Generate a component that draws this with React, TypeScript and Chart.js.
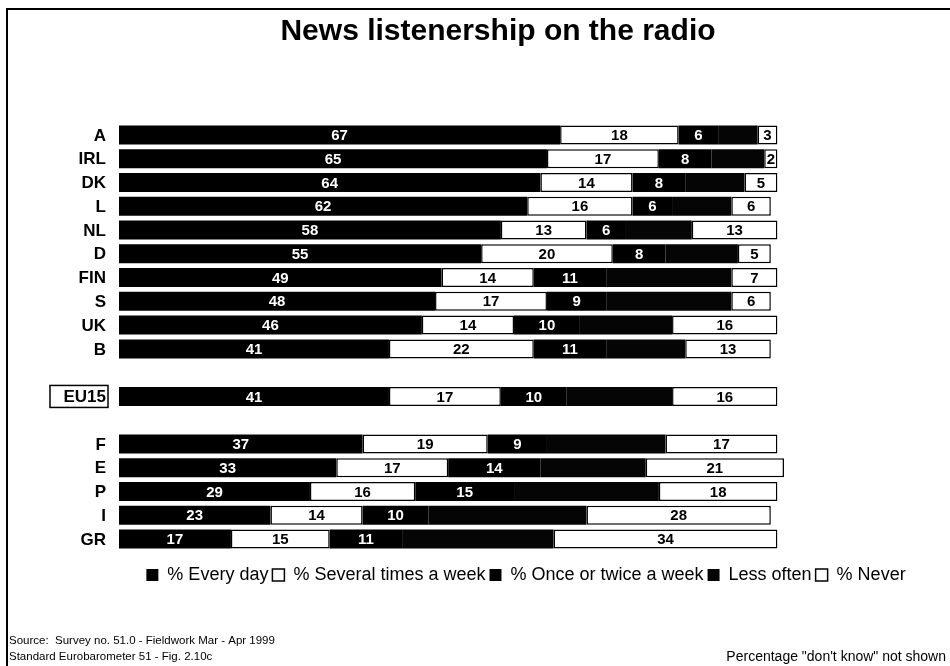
import React, { useEffect, useRef } from 'react';
import { Chart, registerables } from 'chart.js';

Chart.register(...registerables);

// Countries top to bottom; empty strings leave a blank row around the EU15 average.
const categories = ['A', 'IRL', 'DK', 'L', 'NL', 'D', 'FIN', 'S', 'UK', 'B', '', 'EU15', '', 'F', 'E', 'P', 'I', 'GR'];

const everyDay = [67, 65, 64, 62, 58, 55, 49, 48, 46, 41, null, 41, null, 37, 33, 29, 23, 17];
const severalTimesWeek = [18, 17, 14, 16, 13, 20, 14, 17, 14, 22, null, 17, null, 19, 17, 16, 14, 15];
const onceOrTwiceWeek = [6, 8, 8, 6, 6, 8, 11, 9, 10, 11, null, 10, null, 9, 14, 15, 10, 11];
const lessOften = [6, 8, 9, 9, 10, 11, 19, 19, 14, 12, null, 16, null, 18, 16, 22, 24, 23];
const never = [3, 2, 5, 6, 13, 5, 7, 6, 16, 13, null, 16, null, 17, 21, 18, 28, 34];

const seriesLabels = ['% Every day', '% Several times a week', '% Once or twice a week', 'Less often', '% Never'];

const titleText = 'News listenership on the radio';
const sourceLines = ['Source:  Survey no. 51.0 - Fieldwork Mar - Apr 1999', 'Standard Eurobarometer 51 - Fig. 2.10c'];
const footnote = 'Percentage "don\'t know" not shown';
const highlighted = 'EU15';

const FONT = '"Liberation Sans", Arial, Helvetica, sans-serif';

// Writes each segment's value in its middle (the "Less often" segments stay unlabelled).
const valueLabels = {
  id: 'valueLabels',
  afterDatasetsDraw(chart: any) {
    const { ctx } = chart;
    ctx.save();
    ctx.font = `bold 15px ${FONT}`;
    ctx.textAlign = 'center';
    ctx.textBaseline = 'middle';
    chart.data.datasets.forEach((ds: any, di: number) => {
      if (!ds.showValues) return;
      const meta = chart.getDatasetMeta(di);
      meta.data.forEach((el: any, i: number) => {
        const v = ds.data[i];
        if (v == null) return;
        ctx.fillStyle = ds.valueColor;
        ctx.fillText(String(v), (el.x + el.base) / 2, el.y + 1);
      });
    });
    ctx.restore();
  },
};

// Moves the legend row a little right of the page centre.
const legendOffset = {
  id: 'legendOffset',
  afterLayout(chart: any) {
    if (chart.legend) {
      chart.legend.left += 28;
      chart.legend.right += 28;
    }
  },
};

// Page frame, boxed EU15 label and the source notes.
const decorations = {
  id: 'decorations',
  afterDraw(chart: any) {
    const { ctx } = chart;
    const yScale = chart.scales.y;
    ctx.save();
    ctx.fillStyle = '#000';
    ctx.fillRect(6, 8, 944, 2);
    ctx.fillRect(6, 8, 2, 658);

    const idx = categories.indexOf(highlighted);
    const yc = yScale.getPixelForValue(idx);
    ctx.strokeStyle = '#000';
    ctx.lineWidth = 1.5;
    ctx.strokeRect(50, yc - 11, 58, 22);

    ctx.textBaseline = 'middle';
    ctx.textAlign = 'left';
    ctx.font = `11.5px ${FONT}`;
    ctx.fillText(sourceLines[0], 9, 641);
    ctx.fillText(sourceLines[1], 9, 657);
    ctx.textAlign = 'right';
    ctx.font = `14px ${FONT}`;
    ctx.fillText(footnote, 946, 657);
    ctx.restore();
  },
};

export default function App() {
  const canvasRef = useRef<HTMLCanvasElement | null>(null);

  useEffect(() => {
    if (!canvasRef.current) return;
    Chart.defaults.font.family = FONT;
    Chart.defaults.color = '#000';

    const black = { backgroundColor: '#000', borderColor: '#000', borderWidth: 0, valueColor: '#fff' };
    const white = { backgroundColor: '#fff', borderColor: '#000', borderWidth: 1.5, valueColor: '#000' };
    const common = { stack: 'all', categoryPercentage: 1, barPercentage: 0.8, borderSkipped: false, clip: false };

    const chart = new Chart(canvasRef.current, {
      type: 'bar',
      data: {
        labels: categories,
        datasets: [
          { label: seriesLabels[0], data: everyDay, ...common, ...black, showValues: true },
          { label: seriesLabels[1], data: severalTimesWeek, ...common, ...white, showValues: true },
          { label: seriesLabels[2], data: onceOrTwiceWeek, ...common, ...black, showValues: true },
          { label: seriesLabels[3], data: lessOften, ...common, ...black, backgroundColor: '#050505', showValues: false },
          { label: seriesLabels[4], data: never, ...common, ...white, showValues: true },
        ] as any,
      },
      options: {
        indexAxis: 'y',
        responsive: false,
        animation: false,
        layout: { padding: { left: 54, right: 8, top: 0, bottom: 72 } },
        scales: {
          x: {
            stacked: true,
            min: 0,
            max: 125,
            display: true,
            grid: { display: false, drawTicks: false },
            border: { display: false },
            ticks: { display: false },
            afterFit: (s: any) => { s.height = 11; },
          },
          y: {
            stacked: true,
            grid: { display: false, drawTicks: false },
            border: { display: false },
            ticks: { font: { size: 17, weight: 'bold' }, padding: 13, color: '#000', autoSkip: false, labelOffset: 1 },
            afterFit: (s: any) => { s.width = 65; },
          },
        },
        plugins: {
          title: {
            display: true,
            text: titleText,
            font: { size: 30, weight: 'bold' },
            color: '#000',
            padding: { top: 14, bottom: 73 },
          },
          legend: {
            display: true,
            position: 'bottom',
            labels: { boxWidth: 12, boxHeight: 12, padding: 4, font: { size: 18 }, color: '#000' },
          },
          tooltip: { enabled: false },
        },
      },
      plugins: [valueLabels, legendOffset, decorations],
    } as any);

    return () => chart.destroy();
  }, []);

  return (
    <div style={{ position: 'fixed', left: 0, top: 0, width: 950, height: 666, background: '#fff' }}>
      <canvas ref={canvasRef} width={950} height={666} style={{ width: 950, height: 666 }} />
    </div>
  );
}
